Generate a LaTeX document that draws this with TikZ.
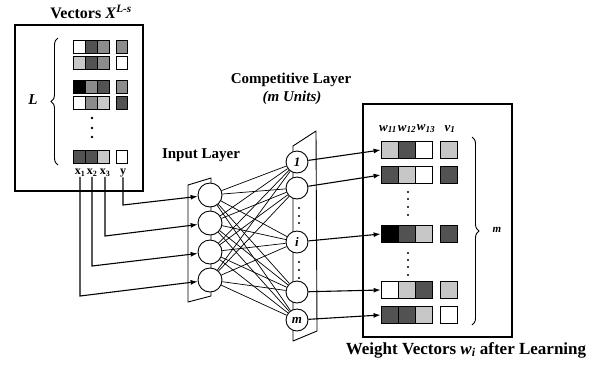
\documentclass[tikz,border=0pt]{standalone}
\usepackage{fontspec}
\setmainfont{Liberation Serif}
\usetikzlibrary{arrows.meta,decorations.pathreplacing}
\colorlet{sh0}{white}
\colorlet{sh1}{black!22}
\colorlet{sh2}{black!45}
\colorlet{sh3}{black!68}
\colorlet{sh4}{black}
\begin{document}
\begin{tikzpicture}[x=1pt,y=-1pt,
  frame/.style={draw, line width=1.1pt, inner sep=0pt},
  cellL/.style={draw, line width=0.8pt, inner sep=0pt, minimum width=12pt, minimum height=13pt},
  cellW/.style={draw, line width=0.8pt, inner sep=0pt, minimum width=17pt, minimum height=17pt},
  inunit/.style={circle, draw, fill=white, line width=0.9pt, minimum size=24pt, inner sep=0pt},
  compunit/.style={circle, draw, fill=white, line width=0.9pt, minimum size=22pt, inner sep=0pt, font=\fontsize{13}{13}\selectfont\bfseries\itshape},
  panel/.style={draw, line width=0.9pt, line join=round},
  net/.style={line width=0.7pt},
  feed/.style={line width=1.1pt, -{Latex[length=7pt,width=5pt]}},
  smalldot/.style={circle, fill, inner sep=0pt, minimum size=2.8pt},
  ttl/.style={font=\fontsize{15}{15}\selectfont\bfseries, inner sep=0pt},
  lbl/.style={font=\fontsize{12}{12}\selectfont\bfseries, inner sep=0pt},
  brc/.style={draw, line width=0.9pt, decorate, decoration={brace, amplitude=7pt}}
]
\useasboundingbox (0,0) rectangle (599,368);

% ---------- left box: input vectors ----------
\node[ttl, font=\fontsize{16}{16}\selectfont\bfseries] (tvec) at (91,12) {Vectors \textit{X}\textsuperscript{\textit{L-s}}};
\node[frame, minimum width=128pt, minimum height=166pt] (lbox) at (79,108) {};
\draw[brc] (58,165) -- (58,38);
\node[font=\fontsize{15}{15}\selectfont\bfseries\itshape, inner sep=0pt] (lL) at (33,100) {L};

\foreach \r/\yy/\a/\b/\c/\d in {1/47/sh0/sh3/sh2/sh2, 2/63/sh1/sh3/sh2/sh0, 3/87/sh4/sh2/sh3/sh2, 4/103/sh0/sh2/sh1/sh3, 5/157/sh3/sh3/sh1/sh0} {
  \node[cellL, fill=\a] (L\r a) at (79,\yy) {};
  \node[cellL, fill=\b] (L\r b) at (91,\yy) {};
  \node[cellL, fill=\c] (L\r c) at (103,\yy) {};
  \node[cellL, fill=\d, minimum width=11pt] (L\r y) at (122,\yy) {};
}
\node[smalldot] (ld1) at (92,118) {};
\node[smalldot] (ld2) at (92,128) {};
\node[smalldot] (ld3) at (92,137) {};

\node[lbl] (lx1) at (80,173) {x\textsubscript{1}};
\node[lbl] (lx2) at (92,173) {x\textsubscript{2}};
\node[lbl] (lx3) at (105,173) {x\textsubscript{3}};
\node[lbl] (ly) at (123,173) {y};

% ---------- input layer ----------
\node[ttl] (tin) at (201,155) {Input Layer};
\draw[panel] (188,185) -- (211,178) -- (211,296) -- (188,302) -- cycle;
\foreach \k/\yy in {1/195, 2/223, 3/252, 4/280}
  \node[inunit] (i\k) at (210,\yy) {};

% ---------- competitive layer ----------
\node[ttl] (tcomp) at (291,80) {Competitive Layer};
\node[ttl, font=\fontsize{15}{15}\selectfont\bfseries\itshape] (tunits) at (292,98) {(m Units)};
\draw[panel] (293,146) -- (316,131) -- (317,331) -- (293,341) -- cycle;
\node[compunit] (c1) at (297,162) {1};
\node[compunit] (c2) at (297,188) {};
\node[compunit] (c3) at (297,242) {i};
\node[compunit] (c4) at (297,292) {};
\node[compunit] (c5) at (297,320) {m};
\foreach \yy [count=\n] in {208,216,223,262,270,278}
  \node[smalldot, minimum size=2.4pt] (cd\n) at (299,\yy) {};

% ---------- connections ----------
\foreach \a in {1,...,4}
  \foreach \b in {1,...,5}
    \draw[net] (i\a) -- (c\b);

% ---------- feeds from the vectors ----------
\coordinate (k1) at (80,296);
\coordinate (k2) at (92,266);
\coordinate (k3) at (105,236);
\coordinate (k4) at (123,205);
\draw[feed] (lx1.south) -- (k1) -- (i4);
\draw[feed] (lx2.south) -- (k2) -- (i3);
\draw[feed] (lx3.south) -- (k3) -- (i2);
\draw[feed] (ly.south) -- (k4) -- (i1);

% ---------- weight vectors ----------
\node[frame, minimum width=149pt, minimum height=233pt] (wbox) at (437.5,220.5) {};
\node[lbl, font=\fontsize{13}{13}\selectfont\bfseries\itshape] (hw1) at (388,129) {w\textsubscript{11}};
\node[lbl, font=\fontsize{13}{13}\selectfont\bfseries\itshape] (hw2) at (407,129) {w\textsubscript{12}};
\node[lbl, font=\fontsize{13}{13}\selectfont\bfseries\itshape] (hw3) at (426,129) {w\textsubscript{13}};
\node[lbl, font=\fontsize{13}{13}\selectfont\bfseries\itshape] (hv1) at (450,129) {v\textsubscript{1}};

\foreach \r/\yy/\a/\b/\c/\d in {1/150/sh1/sh3/sh0/sh1, 2/175/sh3/sh1/sh0/sh3, 3/234/sh4/sh3/sh1/sh3, 4/290/sh0/sh1/sh3/sh1, 5/315/sh3/sh3/sh1/sh0} {
  \node[cellW, fill=\a] (W\r a) at (389.5,\yy) {};
  \node[cellW, fill=\b] (W\r b) at (406.5,\yy) {};
  \node[cellW, fill=\c] (W\r c) at (423.5,\yy) {};
  \node[cellW, fill=\d] (W\r v) at (449,\yy) {};
}
\foreach \yy [count=\n] in {192,199,207,215,253,260,267,275}
  \node[smalldot, minimum size=2.4pt] (wd\n) at (408,\yy) {};

\draw[brc] (472,137) -- (472,325);
\node[font=\fontsize{11}{11}\selectfont\bfseries\itshape, inner sep=0pt] (lm) at (497,230) {m};

\foreach \b in {1,...,5}
  \draw[feed] (c\b) -- (W\b a.west);

\node[ttl, font=\fontsize{17}{17}\selectfont\bfseries] (tw) at (466,350) {Weight Vectors \textit{w}\textsubscript{\textit{i}} after Learning};
\end{tikzpicture}
\end{document}
